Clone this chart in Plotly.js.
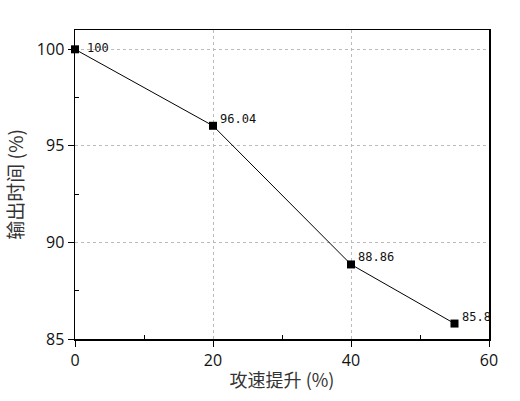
<!DOCTYPE html>
<html>
<head>
<meta charset="utf-8">
<script src="https://cdn.plot.ly/plotly-3.0.1.min.js"></script>
<style>
  html, body { margin: 0; padding: 0; background: #fff; }
  #chart { width: 520px; height: 401px; }
</style>
</head>
<body>
<div id="chart"></div>
<script>
    // attack speed increase vs. output time
    var speedUp = [0, 20, 40, 55];
    var outputTime = [100, 96.04, 88.86, 85.8];
    var pointLabels = ['100', '96.04', '88.86', '85.8'];

    var trace = {
        x: speedUp,
        y: outputTime,
        type: 'scatter',
        mode: 'lines+markers',
        line: { color: 'black', width: 1 },
        marker: { symbol: 'square', size: 8, color: 'black' },
        cliponaxis: false,
        showlegend: false
    };

    // value labels just right of and a bit above each point
    var labels = [];
    for (let i = 0; i < speedUp.length; i++) {
        labels.push({
            x: speedUp[i],
            y: outputTime[i],
            text: pointLabels[i],
            showarrow: false,
            xanchor: 'left',
            yanchor: 'middle',
            xshift: i == 0 ? 10 : 5,
            yshift: i == 0 ? 1 : 7,
            font: { family: 'DejaVu Sans Mono', size: 12, color: '#111' }
        });
    }

    var serif = '"Noto Sans CJK SC", "DejaVu Serif", serif';

    var layout = {
        width: 520,
        height: 401,
        margin: { l: 75, r: 31, t: 30, b: 62 },
        paper_bgcolor: 'white',
        plot_bgcolor: 'white',
        font: { family: '"Open Sans", "DejaVu Sans", sans-serif', size: 16, color: '#111' },
        annotations: labels,
        xaxis: {
            range: [0, 60],
            tickvals: [0, 20, 40, 60],
            ticks: 'outside',
            ticklen: 6,
            tickcolor: 'black',
            showline: true,
            linecolor: 'black',
            linewidth: 1.5,
            mirror: true,
            showgrid: true,
            gridcolor: '#bbb',
            griddash: 'dot',
            gridwidth: 1,
            zeroline: false,
            minor: { tickvals: [10, 30, 50], ticks: 'inside', ticklen: 4, tickcolor: 'black', showgrid: false },
            title: { text: '攻速提升 (%)', font: { family: serif, size: 18, color: '#333' }, standoff: 4 }
        },
        yaxis: {
            range: [85, 101],
            tickvals: [85, 90, 95, 100],
            ticks: 'outside',
            ticklen: 6,
            tickcolor: 'black',
            showline: true,
            linecolor: 'black',
            linewidth: 1.5,
            mirror: true,
            showgrid: true,
            gridcolor: '#bbb',
            griddash: 'dot',
            gridwidth: 1,
            zeroline: false,
            minor: { tickvals: [87.5, 92.5, 97.5], ticks: 'inside', ticklen: 4, tickcolor: 'black', showgrid: false },
            title: { text: '输出时间 (%)', font: { family: serif, size: 19, color: '#333' }, standoff: 8 }
        }
    };

    Plotly.newPlot('chart', [trace], layout, { displayModeBar: false, staticPlot: true });
</script>
</body>
</html>
